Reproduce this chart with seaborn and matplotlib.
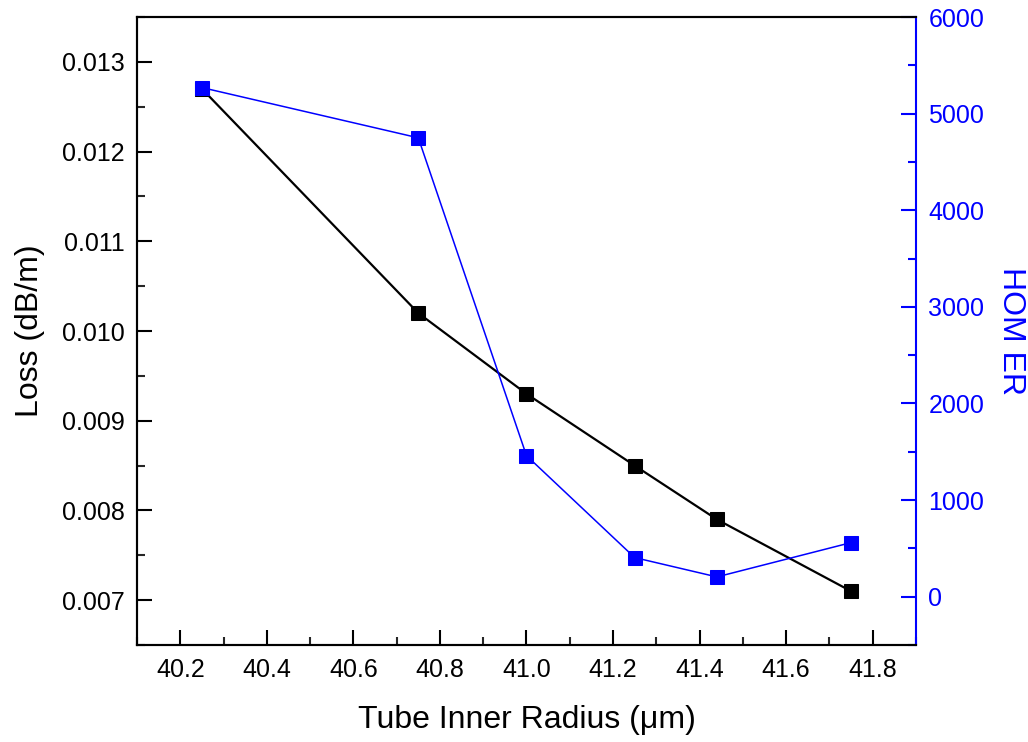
import matplotlib
matplotlib.use("Agg")
import matplotlib.pyplot as plt
from matplotlib.ticker import MultipleLocator, FormatStrFormatter
import seaborn as sns
import pandas as pd

radius = [40.25, 40.75, 41.0, 41.25, 41.44, 41.75]
loss = [0.0127, 0.0102, 0.0093, 0.0085, 0.0079, 0.0071]
hom_er = [5270, 4750, 1460, 405, 205, 560]

sns.set_theme(style="ticks")
plt.rcParams['font.family'] = ['Liberation Sans', 'DejaVu Sans']
plt.rcParams['text.color'] = 'black'
plt.rcParams['axes.labelcolor'] = 'black'

df = pd.DataFrame({"radius": radius, "loss": loss, "hom": hom_er})

fig = plt.figure(figsize=(10.28, 7.42), dpi=100)
ax = fig.add_axes([0.1333, 0.1307, 0.891 - 0.1333, 0.977 - 0.1307])
ax2 = ax.twinx()

sns.lineplot(data=df, x="radius", y="loss", ax=ax, color="black", marker="s",
             markersize=9.5, linewidth=1.6, markeredgecolor="black")
sns.lineplot(data=df, x="radius", y="hom", ax=ax2, color="blue", marker="s",
             markersize=9.5, linewidth=1.1, markeredgecolor="blue")

ax.set_xlim(40.1, 41.9)
ax.set_ylim(0.0065, 0.0135)
ax2.set_ylim(-500, 6000)

ax.xaxis.set_major_locator(MultipleLocator(0.2))
ax.xaxis.set_minor_locator(MultipleLocator(0.1))
ax.yaxis.set_major_locator(MultipleLocator(0.001))
ax.yaxis.set_minor_locator(MultipleLocator(0.0005))
ax2.yaxis.set_major_locator(MultipleLocator(1000))
ax2.yaxis.set_minor_locator(MultipleLocator(500))

ax.xaxis.set_major_formatter(FormatStrFormatter('%.1f'))
ax.yaxis.set_major_formatter(FormatStrFormatter('%.3f'))

ax.tick_params(axis='both', which='major', direction='in', length=11, width=1.5,
               labelsize=18, colors='black', pad=9)
ax.tick_params(axis='both', which='minor', direction='in', length=6, width=1.5)
ax.tick_params(axis='x', top=False, which='both')
ax2.tick_params(axis='y', which='major', direction='in', length=11, width=1.5,
                labelsize=18, colors='blue', pad=9)
ax2.tick_params(axis='y', which='minor', direction='in', length=6, width=1.5, colors='blue')

for s in ['left', 'bottom', 'top']:
    ax.spines[s].set_linewidth(1.5)
    ax.spines[s].set_color('black')
    ax2.spines[s].set_linewidth(1.5)
    ax2.spines[s].set_color('black')
ax2.spines['right'].set_color('blue')
ax2.spines['right'].set_linewidth(1.5)
ax.spines['right'].set_visible(False)

ax.set_xlabel("Tube Inner Radius (\u03bcm)", fontsize=23, labelpad=17, color='black')
ax.set_ylabel("Loss (dB/m)", fontsize=23, labelpad=12, color='black')
ax2.set_ylabel("HOM ER", fontsize=23, color='blue', rotation=270, labelpad=30)

fig.savefig("out.png", dpi=100)
